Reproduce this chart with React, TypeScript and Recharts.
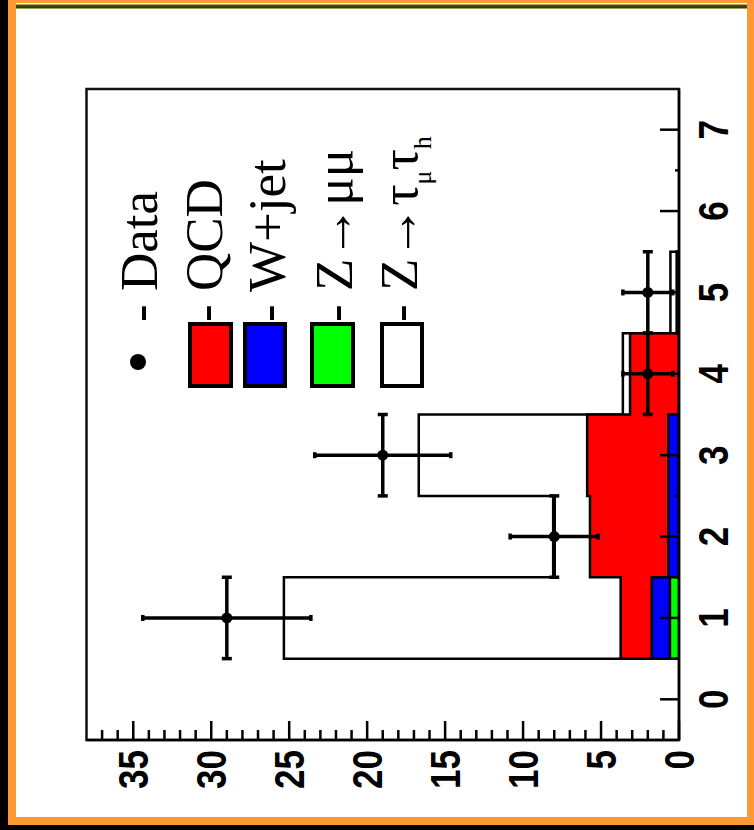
import React from 'react';
import { ComposedChart, Area, Scatter, ErrorBar, XAxis, YAxis, ReferenceArea, Legend } from 'recharts';

// ---- data ----
const binLowEdges = [0.5, 1.5, 2.5, 3.5, 4.5];
const lastEdge = 5.5;
const binCenters = [1, 2, 3, 4, 5];
const zMuMu = [0.58, 0, 0, 0, 0];
const wJet = [1.17, 0.69, 0.69, 0, 0];
const qcd = [1.99, 5.02, 5.2, 3.14, 0.15];
const zTauTau = [21.6, 2.36, 10.8, 0.46, 0.4];
const dataCounts = [29, 8, 19, 2, 2];
const dataErrors = [5.39, 2.83, 4.36, 1.6, 1.6];
const binHalfWidth = [0.5, 0.5, 0.5, 0.5, 0.5];
const xTicks = [0, 0.5, 1, 1.5, 2, 2.5, 3, 3.5, 4, 4.5, 5, 5.5, 6, 6.5, 7];
const yTicks = Array.from({ length: 38 }, (_, i) => i);
const legendLabels = ['Data', 'QCD', 'W+jet', 'Z\u2192\u03bc\u03bc', 'Z\u2192\u03c4\u03c4'];
const legendColors = ['#000000', '#ff0000', '#0000ff', '#00ff00', '#ffffff'];

// cumulative stack (THStack style)
const cum1 = zMuMu.map((v) => v);
const cum2 = cum1.map((v, i) => v + wJet[i]);
const cum3 = cum2.map((v, i) => v + qcd[i]);
const cum4 = cum3.map((v, i) => v + zTauTau[i]);

const histRows = [
  { x: binLowEdges[0], zmm: 0, wj: 0, qcd: 0, ztt: 0 },
  ...binLowEdges.map((e, i) => ({ x: e, zmm: cum1[i], wj: cum2[i], qcd: cum3[i], ztt: cum4[i] })),
  { x: lastEdge, zmm: 0, wj: 0, qcd: 0, ztt: 0 },
];
const dataRows = binCenters.map((c, i) => ({ x: c, y: dataCounts[i], ex: binHalfWidth[i], ey: dataErrors[i] }));

const SANS = '"Liberation Sans", Arial, Helvetica, sans-serif';
const SERIF = '"Liberation Serif", "Times New Roman", "DejaVu Serif", serif';

const W = 830; // pre-rotation width (final height)
const H = 754; // pre-rotation height (final width)

function XTick(props: any) {
  const { x, y, payload } = props;
  const v = payload.value;
  const major = Math.abs(v - Math.round(v)) < 1e-6;
  return (
    <g>
      <line x1={x} x2={x} y1={y} y2={y - (major ? 19 : 4)} stroke="#000" strokeWidth={2.5} />
      {major && (
        <text transform={`translate(${x},${y + 49}) scale(1,1.2)`} textAnchor="middle" fontFamily={SANS} fontWeight="bold" fontSize={35} fill="#000">
          {v}
        </text>
      )}
    </g>
  );
}

function YTick(props: any) {
  const { x, y, payload } = props;
  const v = payload.value;
  const major = v % 5 === 0;
  return (
    <g>
      <line x1={x} x2={x + (major ? 19 : 10)} y1={y} y2={y} stroke="#000" strokeWidth={2.5} />
      {major && (
        <text transform={`translate(${x - 10},${y}) scale(1,1.2)`} textAnchor="end" dy="0.358em" fontFamily={SANS} fontWeight="bold" fontSize={35} fill="#000">
          {v}
        </text>
      )}
    </g>
  );
}

function LegendBox() {
  const rows = [157, 222, 285, 352, 417];
  const boxes = [null, [188, 233], [243, 287], [310, 355], [380, 424]];
  return (
    <svg width={W} height={H} style={{ position: 'absolute', left: 0, top: 0, overflow: 'visible' }}>
      <circle cx={468} cy={138} r={8} fill="#000" />
      {boxes.map((b, i) =>
        b ? (
          <rect key={i} x={444} y={b[0] + 2} width={62} height={b[1] - b[0] - 4} fill={legendColors[i]} stroke="#000" strokeWidth={4} />
        ) : null
      )}
      {legendLabels.map((lab, i) => {
        if (i === 4) {
          return (
            <text key={i} x={508} y={rows[i]} fontFamily={SERIF} fontSize={53} fill="#000">
              {'- Z\u2192\u03c4'}
              <tspan dy={14} fontSize={26}>{'\u03bc'}</tspan>
              <tspan dy={-14} fontSize={53}>{'\u03c4'}</tspan>
              <tspan dy={14} fontSize={26}>h</tspan>
            </text>
          );
        }
        return (
          <text key={i} x={508} y={rows[i]} fontFamily={SERIF} fontSize={53} fill="#000">
            {'- ' + lab}
          </text>
        );
      })}
    </svg>
  );
}

function Dot(props: any) {
  const { cx, cy } = props;
  return <circle cx={cx} cy={cy} r={5.5} fill="#000" />;
}

export default function App() {
  return (
    <div style={{ position: 'absolute', left: 0, top: 0, width: 754, height: 830, background: '#000', overflow: 'hidden' }}>
      {/* orange frame */}
      <div style={{ position: 'absolute', left: 8, top: 0, width: 746, height: 825, background: '#ff9933' }} />
      <div style={{ position: 'absolute', left: 16, top: 3, width: 731, height: 814, background: '#ffffff' }} />
      <div style={{ position: 'absolute', left: 16, top: 4, width: 731, height: 5, background: 'linear-gradient(#c8c890, #3c3c0c 35%, #3c3c0c 75%, #d8e090)' }} />
      {/* rotated chart */}
      <div
        style={{
          position: 'absolute',
          left: 0,
          top: 0,
          width: W,
          height: H,
          transformOrigin: '0 0',
          transform: `translate(0px, ${W}px) rotate(-90deg)`,
        }}
      >
        <ComposedChart width={W} height={H} data={histRows} margin={{ top: 86.5, right: 89, bottom: 74, left: 89 }}>
          <XAxis
            dataKey="x"
            type="number"
            domain={[-0.5, 7.5]}
            ticks={xTicks}
            interval={0}
            height={1}
            tickSize={0}
            tickMargin={0}
            tickLine={false}
            tick={XTick}
            axisLine={{ stroke: '#000', strokeWidth: 2.5 }}
            allowDataOverflow
          />
          <YAxis
            type="number"
            domain={[0, 38]}
            ticks={yTicks}
            interval={0}
            width={1}
            tickSize={0}
            tickMargin={0}
            tickLine={false}
            tick={YTick}
            axisLine={{ stroke: '#000', strokeWidth: 2.5 }}
            allowDataOverflow
          />
          <Area dataKey="ztt" type="stepAfter" fill="#ffffff" fillOpacity={1} stroke="#000" strokeWidth={2.5} dot={false} activeDot={false} isAnimationActive={false} />
          <Area dataKey="qcd" type="stepAfter" fill="#ff0000" fillOpacity={1} stroke="#000" strokeWidth={2.5} dot={false} activeDot={false} isAnimationActive={false} />
          <Area dataKey="wj" type="stepAfter" fill="#0000ff" fillOpacity={1} stroke="#000" strokeWidth={2.5} dot={false} activeDot={false} isAnimationActive={false} />
          <Area dataKey="zmm" type="stepAfter" fill="#00ff00" fillOpacity={1} stroke="#000" strokeWidth={2.5} dot={false} activeDot={false} isAnimationActive={false} />
          <ReferenceArea x1={-0.5} x2={7.5} y1={0} y2={38} fill="none" fillOpacity={0} stroke="#111" strokeWidth={2.5} />
          <Scatter data={dataRows} dataKey="y" shape={Dot} isAnimationActive={false}>
            <ErrorBar dataKey="ex" direction="x" width={5} stroke="#000" strokeWidth={3.5} />
            <ErrorBar dataKey="ey" direction="y" width={3} stroke="#000" strokeWidth={3.5} />
          </Scatter>
          <Legend
            layout="vertical"
            align="center"
            verticalAlign="middle"
            wrapperStyle={{ left: 0, top: 0, width: W, height: H, pointerEvents: 'none' }}
            content={() => <LegendBox />}
          />
        </ComposedChart>
      </div>
    </div>
  );
}
